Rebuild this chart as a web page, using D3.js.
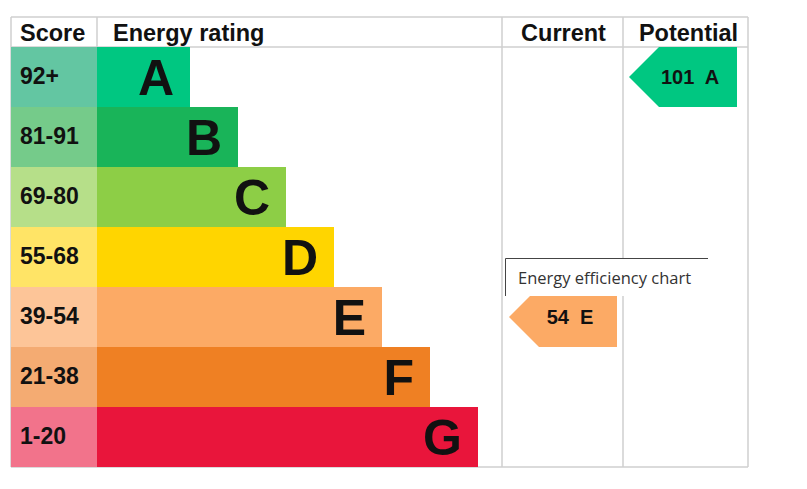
<!DOCTYPE html>
<html>
<head>
<meta charset="utf-8">
<script src="https://cdn.jsdelivr.net/npm/d3@7"></script>
<style>
  body { margin: 0; background: #fff; }
  svg { display: block; font-family: "Liberation Sans", Arial, sans-serif; }
</style>
</head>
<body>
<div id="chart"></div>
<script>
// Данные EPC
const bands = ["A", "B", "C", "D", "E", "F", "G"];
const scoreRanges = ["92+", "81-91", "69-80", "55-68", "39-54", "21-38", "1-20"];
const barSteps = [1, 2, 3, 4, 5, 6, 7];
const barColors = ["#00c781", "#19b459", "#8dce46", "#ffd500", "#fcaa65", "#ef8023", "#e9153b"];
const scoreColors = ["#63c6a2", "#75cb8a", "#b6df89", "#ffe466", "#fdc598", "#f4ab72", "#f2738b"];
const headers = ["Score", "Energy rating", "Current", "Potential"];
const currentRating = { value: 54, band: "E" };
const potentialRating = { value: 101, band: "A" };
const tooltipText = "Energy efficiency chart";

const width = 807, height = 489;
const leftX = 11, rightX = 748, topY = 17, headH = 30, bottomY = 467;
const scoreX = 97, curX = 502, potX = 623;

const svg = d3.select("#chart").append("svg")
    .attr("width", width)
    .attr("height", height);

const y = d3.scaleBand()
    .domain(bands)
    .range([topY + headH, bottomY])
    .padding(0);

// длина полос
const x = d3.scaleLinear()
    .domain([1, 7])
    .range([190, 478]);

// Сетка
const gridColor = "#cfcfcf";
const grid = svg.append("g").attr("stroke", gridColor).attr("stroke-width", 1.5);
grid.append("line").attr("x1", leftX).attr("x2", rightX).attr("y1", topY).attr("y2", topY);
grid.append("line").attr("x1", leftX).attr("x2", rightX).attr("y1", topY + headH).attr("y2", topY + headH);
grid.append("line").attr("x1", leftX).attr("x2", rightX).attr("y1", bottomY).attr("y2", bottomY);
[leftX, scoreX, curX, potX, rightX].forEach(v => {
    grid.append("line").attr("x1", v).attr("x2", v).attr("y1", topY).attr("y2", bottomY);
});

// Заголовки
const headPos = [
    { x: 20, anchor: "start" },
    { x: 113, anchor: "start" },
    { x: (curX + potX) / 2 + 1, anchor: "middle" },
    { x: (potX + rightX) / 2 + 3, anchor: "middle" }
];
svg.append("g").selectAll("text")
    .data(headers)
    .enter().append("text")
    .attr("x", (d, i) => headPos[i].x)
    .attr("y", topY + 24)
    .attr("text-anchor", (d, i) => headPos[i].anchor)
    .attr("font-size", 23.5)
    .attr("font-weight", "bold")
    .attr("fill", "#111")
    .text(d => d);

// Строки
const rows = svg.append("g").selectAll("g")
    .data(bands)
    .enter().append("g");

rows.append("rect")
    .attr("x", leftX)
    .attr("y", d => y(d))
    .attr("width", scoreX - leftX)
    .attr("height", y.bandwidth())
    .attr("fill", (d, i) => scoreColors[i]);

rows.append("rect")
    .attr("x", scoreX)
    .attr("y", d => y(d))
    .attr("width", (d, i) => x(barSteps[i]) - scoreX)
    .attr("height", y.bandwidth())
    .attr("fill", (d, i) => barColors[i]);

rows.append("text")
    .attr("x", 20)
    .attr("y", d => y(d) + y.bandwidth() / 2 + 7)
    .attr("font-size", 23)
    .attr("font-weight", "bold")
    .attr("fill", "#111")
    .text((d, i) => scoreRanges[i]);

rows.append("text")
    .attr("x", (d, i) => x(barSteps[i]) - 16)
    .attr("y", d => y(d) + y.bandwidth() / 2 + 18)
    .attr("text-anchor", "end")
    .attr("font-size", 50)
    .attr("font-weight", "bold")
    .attr("fill", "#111")
    .text(d => d);

// Стрелки текущего / потенциального рейтинга
function arrow(rating, tipX) {
    const i = bands.indexOf(rating.band);
    const y0 = y(rating.band), h = y.bandwidth();
    const w = 108, notch = 30;
    const g = svg.append("g");
    g.append("path")
        .attr("d", `M${tipX},${y0 + h / 2} L${tipX + notch},${y0} L${tipX + w},${y0} L${tipX + w},${y0 + h} L${tipX + notch},${y0 + h} Z`)
        .attr("fill", barColors[i]);
    g.append("text")
        .attr("x", tipX + 61)
        .attr("y", y0 + h / 2 + 7)
        .attr("text-anchor", "middle")
        .attr("font-size", 20)
        .attr("font-weight", "bold")
        .attr("fill", "#111")
        .style("white-space", "pre")
        .text(`${rating.value}  ${rating.band}`);
}
arrow(currentRating, curX + 7);
arrow(potentialRating, potX + 6);

// Подсказка
const tip = svg.append("g");
tip.append("rect")
    .attr("x", 505).attr("y", 258)
    .attr("width", 203).attr("height", 38)
    .attr("fill", "#fff");
tip.append("path")
    .attr("d", "M505.5,296 L505.5,258.5 L708,258.5")
    .attr("fill", "none")
    .attr("stroke", "#444")
    .attr("stroke-width", 1);
tip.append("text")
    .attr("x", 518)
    .attr("y", 284)
    .attr("font-family", "'Open Sans', sans-serif")
    .attr("font-size", 16.5)
    .attr("fill", "#333")
    .text(tooltipText);
</script>
</body>
</html>
